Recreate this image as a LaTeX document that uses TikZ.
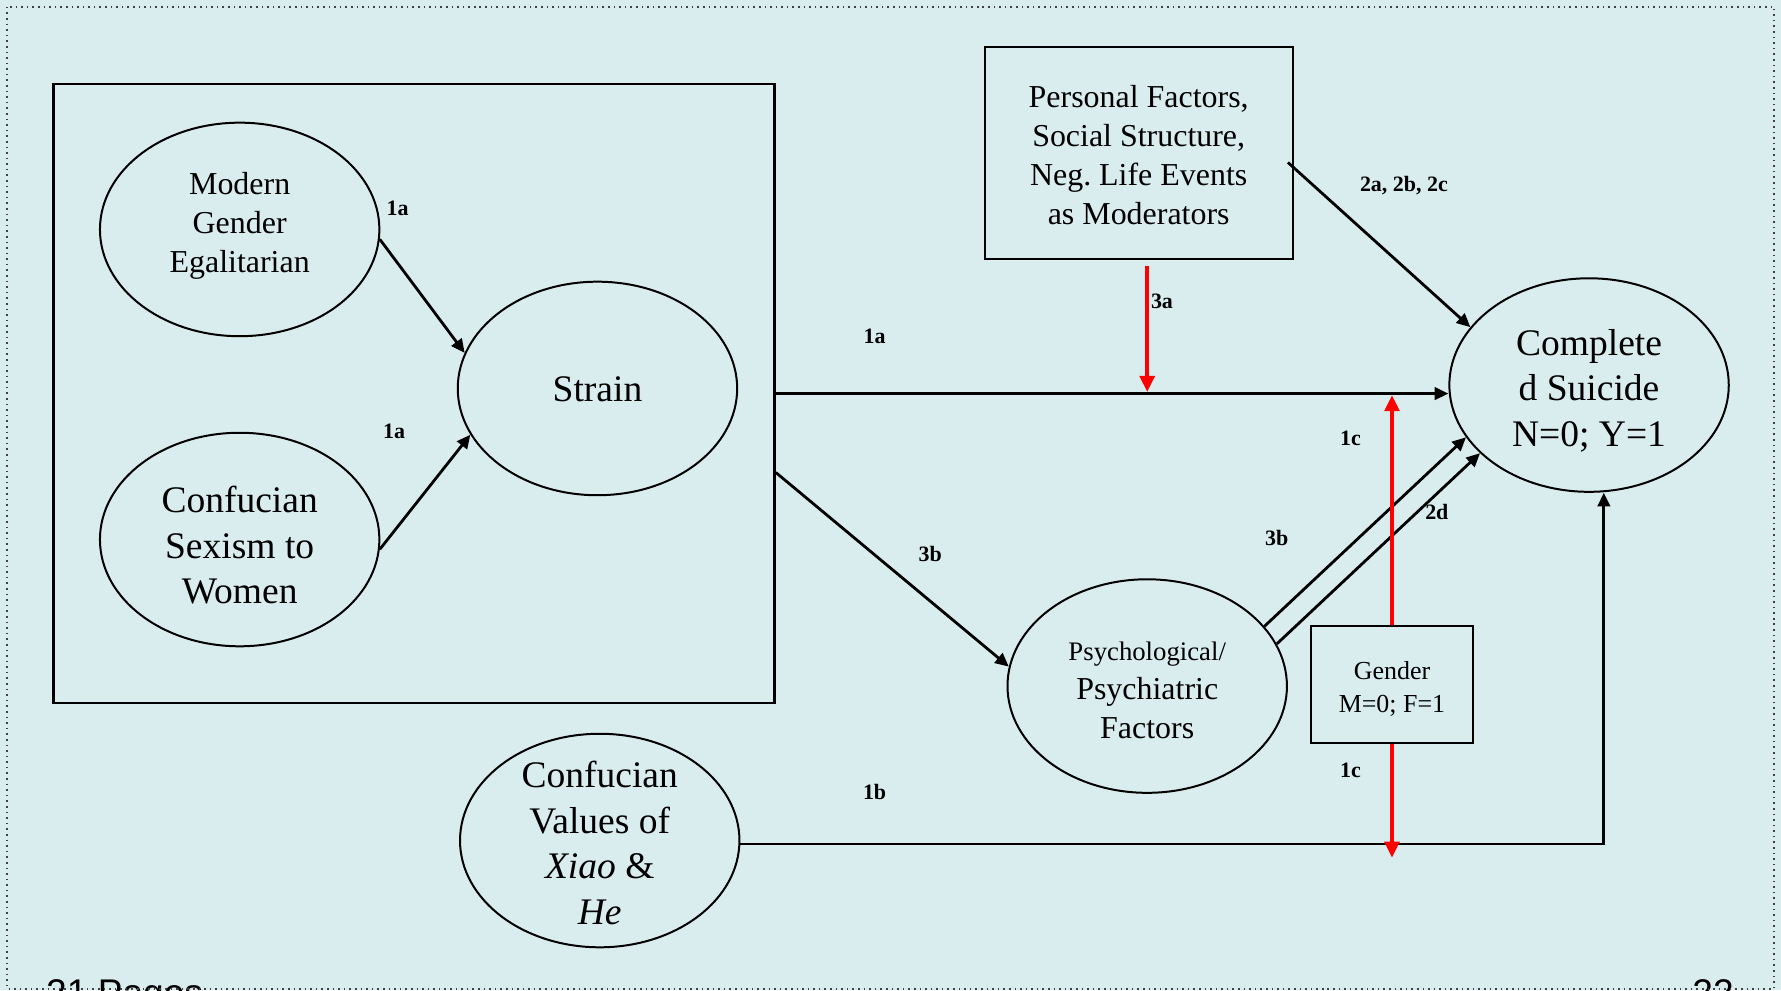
\documentclass[tikz,border=0pt]{standalone}
\usepackage{fontspec}
\setmainfont{Liberation Serif}
\newfontfamily\footfont{Liberation Sans}
\usetikzlibrary{shapes.geometric,arrows.meta,positioning}
\definecolor{slidebg}{RGB}{218,237,238}
\definecolor{modred}{RGB}{255,0,0}
\newcommand{\bigtext}{\fontsize{9.4}{11.4}\selectfont}
\newcommand{\midtext}{\fontsize{8}{9.7}\selectfont}
\tikzset{
	latent/.style={ellipse, draw, line width=0.5pt, minimum width=2.46cm, minimum height=1.88cm, inner sep=0pt},
	factorbox/.style={rectangle, draw, line width=0.5pt, inner sep=0pt},
	caption/.style={align=center, inner sep=0pt},
	effect/.style={-{Triangle[length=1.2mm, width=1.1mm]}, line width=0.7pt},
	moderate/.style={-{Triangle[length=1.4mm, width=1.3mm]}, line width=0.9pt, draw=modred, fill=modred},
	coef/.style={font=\fontsize{5.5}{6.5}\selectfont\bfseries, inner sep=0pt}
}

\begin{document}
\frenchspacing
\begin{tikzpicture}
			\useasboundingbox (0,0) rectangle (15.68,-8.72);
			\fill[slidebg] (0,0) rectangle (15.68,-8.72);
			
			\node[factorbox, line width=0.6pt, minimum width=6.35cm, minimum height=5.45cm] (strainbox) at (3.645,-3.465) {};
			\node[latent] (modern) at (2.11,-2.02) {};
			\node[latent] (sexism) at (2.11,-4.75) {};
			\node[latent] (strain) at (5.26,-3.42) {};
			\node[factorbox, minimum width=2.71cm, minimum height=1.87cm] (personal) at (10.025,-1.345) {};
			\node[latent] (suicide) at (13.99,-3.39) {};
			\node[latent] (psych) at (10.10,-6.04) {};
			\node[factorbox, minimum width=1.43cm, minimum height=1.03cm] (gender) at (12.255,-6.025) {};
			\node[latent] (xiao) at (5.28,-7.40) {};
			
			\node[caption, font=\midtext] (moderntext) at ([yshift=0.03cm]modern.center) {Modern\\ Gender\\ Egalitarian};
			\node[caption, font=\bigtext] (sexismtext) at ([yshift=-0.05cm]sexism.center) {Confucian\\ Sexism to\\ Women};
			\node[caption, font=\bigtext] (straintext) at ([yshift=-0.01cm]strain.center) {Strain};
			\node[caption, font=\midtext] (personaltext) at ([yshift=-0.02cm]personal.center) {Personal Factors,\\ Social Structure,\\ Neg. Life Events\\ as Moderators};
			\node[caption, font=\bigtext] (suicidetext) at ([yshift=-0.05cm]suicide.center) {Complete\\ d Suicide\\ N=0; Y=1};
			\node[caption, font=\midtext] (psychtext) at ([yshift=-0.04cm]psych.center) {{\fontsize{6.7}{8}\selectfont Psychological/}\\ Psychiatric\\ Factors};
			\node[caption, font=\fontsize{6.5}{8.4}\selectfont] (gendertext) at ([yshift=-0.04cm]gender.center) {Gender\\ M=0; F=1};
			\node[caption, font=\bigtext] (xiaotext) at ([yshift=-0.02cm]xiao.center) {Confucian\\ Values of\\ \textit{Xiao} \&\\ \textit{He}};
			
			\draw[effect] (modern.-4) -- (strain.165);
			\draw[effect] (sexism.-4) -- (strain.200);
			\draw[effect] (strainbox.east) -- (strainbox.east -| suicide.west);
			\draw[effect] ([yshift=-0.695cm]strainbox.east) -- (psych.172);
			\draw[effect] ([shift={(-0.05,-0.085)}]personal.east) -- (suicide.154);
			\draw[effect] (psych.27) -- (suicide.203);
			\draw[effect] (psych.18) -- (suicide.212);
			\draw[effect] ([yshift=-0.03cm]xiao.east) -| ([xshift=0.13cm]suicide.south);
			
			\coordinate (m3a) at (10.10,-3.45);
			\coordinate (m1c) at (12.255,-3.48);
			\coordinate (m1b) at (12.255,-7.55);
			\draw[moderate] (m3a |- personal.south) ++(0,-0.05) -- (m3a);
			\draw[moderate] (gender.north) -- (m1c);
			\draw[moderate] (gender.south) -- (m1b);
			
			\node[coef] (c1a) at (3.50,-1.83) {1a};
			\node[coef] (c1a2) at (3.47,-3.80) {1a};
			\node[coef] (c1a3) at (7.70,-2.96) {1a};
			\node[coef] (c3a) at (10.23,-2.65) {3a};
			\node[coef] (c2abc) at (12.36,-1.63) {2a, 2b, 2c};
			\node[coef] (c1c) at (11.89,-3.86) {1c};
			\node[coef] (c3b) at (8.19,-4.88) {3b};
			\node[coef] (c3b2) at (11.24,-4.74) {3b};
			\node[coef] (c2d) at (12.65,-4.51) {2d};
			\node[coef] (c1c2) at (11.89,-6.78) {1c};
			\node[coef] (c1b) at (7.70,-6.97) {1b};
			
			\begin{scope}
				\clip (0,0) rectangle (15.68,-8.72);
				\node[anchor=base west, inner sep=0pt, font=\footfont\fontsize{9.3}{11}\selectfont] (pages) at (0.40,-8.855) {21 Pages};
				\node[anchor=base east, inner sep=0pt, font=\footfont\fontsize{9.3}{11}\selectfont] (slideno) at (15.27,-8.855) {22};
			\end{scope}
			\draw[densely dotted, line width=0.4pt, black!75] (0.06,-0.06) rectangle (15.62,-8.705);
		\end{tikzpicture}
\end{document}
